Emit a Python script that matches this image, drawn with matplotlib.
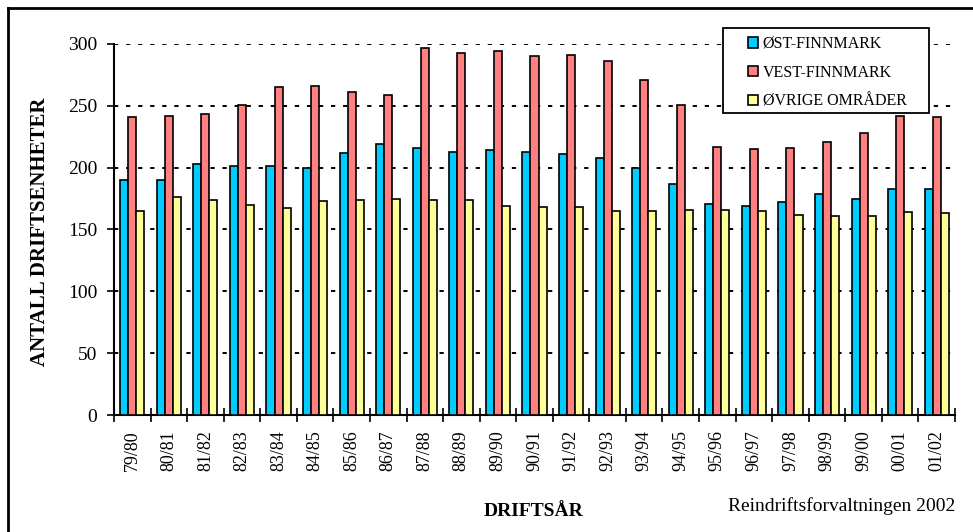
import numpy as np
import matplotlib
matplotlib.use("Agg")
import matplotlib.pyplot as plt
from matplotlib.patches import Rectangle
from matplotlib.lines import Line2D

plt.rcParams['font.family'] = ['Liberation Serif', 'DejaVu Serif']

# data
seasons = ["79/80", "80/81", "81/82", "82/83", "83/84", "84/85", "85/86", "86/87",
           "87/88", "88/89", "89/90", "90/91", "91/92", "92/93", "93/94", "94/95",
           "95/96", "96/97", "97/98", "98/99", "99/00", "00/01", "01/02"]
ost = [190, 190, 203, 201, 201, 200, 212, 219, 216, 213, 214, 213, 211, 208, 200,
       187, 171, 169, 172, 179, 175, 183, 183]
vest = [241, 242, 243, 251, 265, 266, 261, 259, 297, 293, 294, 290, 291, 286, 271,
        251, 217, 215, 216, 221, 228, 242, 241]
ovrige = [165, 176, 174, 170, 167, 173, 174, 175, 174, 174, 169, 168, 168, 165, 165,
          166, 166, 165, 162, 161, 161, 164, 163]

W, H = 973, 532
fig = plt.figure(figsize=(W / 100, H / 100), dpi=100)
ax = fig.add_axes([114 / W, 1 - 415 / H, 841 / W, 371 / H])

# chart area border (left and top edges visible)
fig.add_artist(Line2D([8 / W, 8 / W], [0, 1 - 8 / H], transform=fig.transFigure,
                      color="black", linewidth=2))
fig.add_artist(Line2D([8 / W, 1], [1 - 8 / H, 1 - 8 / H], transform=fig.transFigure,
                      color="black", linewidth=2))

x = np.arange(len(seasons))
w = 0.22
b1 = ax.bar(x - w, ost, w, color="#00CCFF", edgecolor="black", linewidth=1.2, zorder=3)
b2 = ax.bar(x, vest, w, color="#FF8080", edgecolor="black", linewidth=1.2, zorder=3)
b3 = ax.bar(x + w, ovrige, w, color="#FFFF99", edgecolor="black", linewidth=1.2, zorder=3)

ax.set_xlim(-0.5, len(seasons) - 0.5)
ax.set_ylim(0, 300)
ax.set_yticks(range(0, 301, 50))
ax.yaxis.grid(True, color="black", linestyle=(0, (2.2, 4)), linewidth=1.4, zorder=0)
ax.set_axisbelow(True)

ax.set_xticks(x)
ax.set_xticklabels(seasons, rotation=90, fontsize=13)
ax.tick_params(axis="x", length=0, pad=11)
ax.set_xticks(np.arange(-0.5, len(seasons)), minor=True)
ax.tick_params(axis="x", which="minor", length=10, width=1.2, direction="inout")
ax.tick_params(axis="y", length=5, width=1.2, labelsize=14, pad=7)

for s in ["top", "right"]:
    ax.spines[s].set_visible(False)
for s in ["left", "bottom"]:
    ax.spines[s].set_linewidth(1.5)

fig.text(40 / W, 1 - 232 / H, "ANTALL DRIFTSENHETER", fontsize=15, fontweight="bold",
         rotation=90, ha="center", va="center")
fig.text(534 / W, 1 - 511 / H, "DRIFTSÅR", fontsize=14, fontweight="bold", ha="center", va="center")
fig.text(955 / W, 1 - 506 / H, "Reindriftsforvaltningen 2002", fontsize=14, ha="right", va="center")

# legend with a wide box like the original
fig.add_artist(Rectangle((723 / W, 1 - 113 / H), 206 / W, 85 / H, transform=fig.transFigure,
                         facecolor="white", edgecolor="black", linewidth=1.3, zorder=4))
leg = fig.legend([b1, b2, b3], ["ØST-FINNMARK", "VEST-FINNMARK", "ØVRIGE OMRÅDER"],
                 loc="upper left", bbox_to_anchor=(748 / W, 1 - 36 / H),
                 fontsize=11.5, frameon=False,
                 handlelength=0.62, handleheight=0.62, handletextpad=0.3,
                 labelspacing=0.8, borderpad=0, borderaxespad=0)
leg.set_zorder(5)

fig.savefig("out.png", dpi=100)
